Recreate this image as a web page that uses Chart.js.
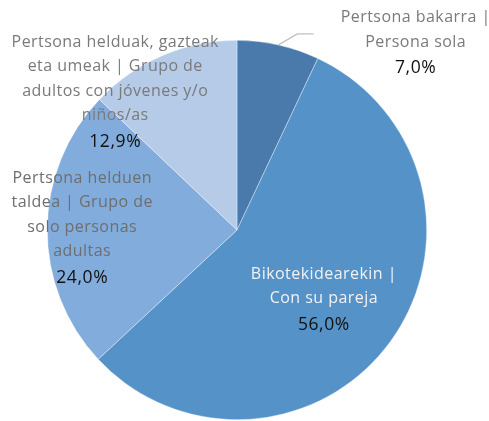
<!DOCTYPE html>
<html><head><meta charset="utf-8">
<script src="https://cdn.jsdelivr.net/npm/chart.js@4/dist/chart.umd.min.js"></script>
<style>html,body{margin:0;padding:0;background:#fff;}#wrap{width:489px;height:421px;}</style>
</head><body><div id="wrap"><canvas id="c" width="489" height="421"></canvas></div>
<script>
// ---- data ----
const categories = [
  ["Pertsona bakarra |", "Persona sola"],
  ["Bikotekidearekin |", "Con su pareja"],
  ["Pertsona helduen", "taldea | Grupo de", "solo personas", "adultas"],
  ["Pertsona helduak, gazteak", "eta umeak | Grupo de", "adultos con jóvenes y/o", "niños/as"]
];
const values = [7.0, 56.0, 24.0, 12.9];
const percentLabels = ["7,0%", "56,0%", "24,0%", "12,9%"];

// ---- style / layout ----
const colors = ["#4a7aac", "#5592c8", "#82acdc", "#b5cbe8"];
const catTextColors = ["#7a7a7a", "#f2f2f2", "#6e6e6e", "#7a7a7a"];
// label block centre in units of radius relative to pie centre
const labelOffsets = [[0.942, -0.99], [0.458, 0.363], [-0.816, -0.016], [-0.642, -0.732]];
const FONT = "'Open Sans', 'Noto Sans', sans-serif";

const labelPlugin = {
  id: 'sliceLabels',
  afterDatasetsDraw(chart) {
    const ctx = chart.ctx;
    const meta = chart.getDatasetMeta(0);
    meta.data.forEach((arc, i) => {
      const p = arc.getProps(['x', 'y', 'outerRadius', 'startAngle', 'endAngle'], true);
      const r = p.outerRadius;
      const cx = p.x + labelOffsets[i][0] * r;
      const cy = p.y + labelOffsets[i][1] * r;
      const lines = categories[i];
      const lh = 24.3;
      const n = lines.length + 1;
      const top = cy - (n - 1) * lh / 2;
      ctx.save();
      ctx.textAlign = 'center';
      ctx.textBaseline = 'middle';
      ctx.letterSpacing = '0.45px';
      ctx.font = "16px " + FONT;
      ctx.fillStyle = catTextColors[i];
      lines.forEach((t, k) => ctx.fillText(t, cx, top + k * lh));
      ctx.letterSpacing = '0.6px';
      ctx.font = "17.5px " + FONT;
      ctx.fillStyle = "#111111";
      ctx.fillText(percentLabels[i], cx, top + lines.length * lh + 2);
      // leader line for the outside label
      if (i === 0) {
        const mid = (p.startAngle + p.endAngle) / 2;
        const sx = p.x + Math.cos(mid) * r, sy = p.y + Math.sin(mid) * r;
        ctx.strokeStyle = "#c0c0c0";
        ctx.lineWidth = 1.3;
        ctx.beginPath();
        ctx.moveTo(sx, sy);
        ctx.lineTo(sx + 0.1 * r, sy - 0.058 * r);
        ctx.lineTo(sx + 0.185 * r, sy - 0.058 * r);
        ctx.stroke();
      }
      ctx.restore();
    });
  }
};

new Chart(document.getElementById('c'), {
  type: 'pie',
  data: {
    labels: categories.map(l => l.join(' ')),
    datasets: [{
      data: values,
      backgroundColor: colors,
      borderColor: 'rgba(255,255,255,0.6)',
      borderWidth: 0.6
    }]
  },
  options: {
    responsive: false,
    animation: false,
    rotation: 0,
    layout: { padding: { left: 47, right: 62, top: 40, bottom: 1 } },
    plugins: { legend: { display: false }, tooltip: { enabled: false } }
  },
  plugins: [labelPlugin]
});
</script>
</body></html>
